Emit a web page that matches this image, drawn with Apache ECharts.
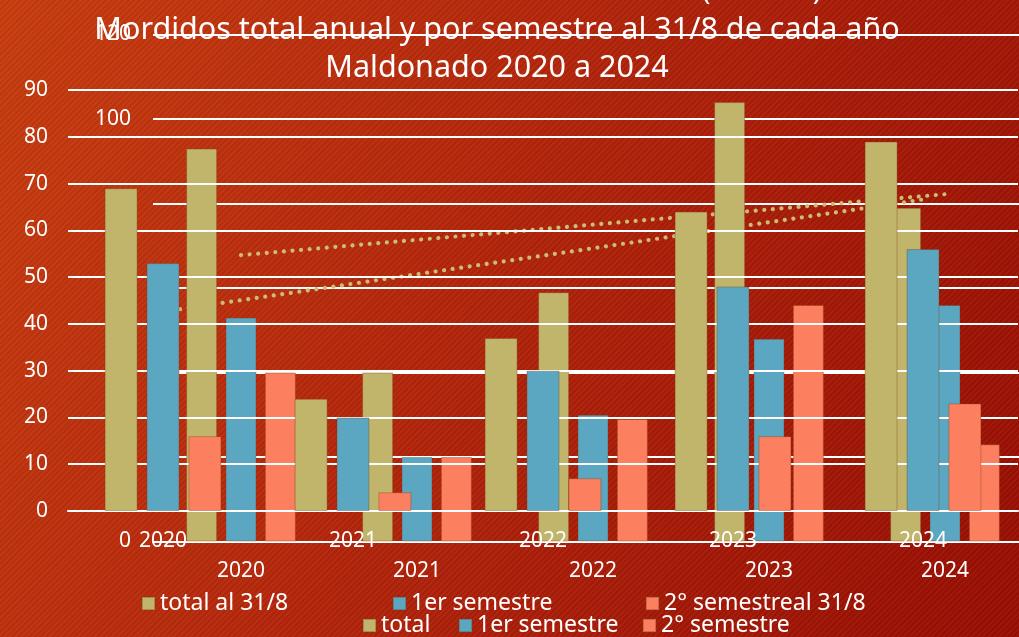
<!DOCTYPE html>
<html>
<head>
<meta charset="utf-8">
<script src="https://cdn.jsdelivr.net/npm/echarts@6/dist/echarts.min.js"></script>
<style>
  html, body { margin: 0; padding: 0; }
  body {
    width: 1019px; height: 637px; overflow: hidden;
    background:
      repeating-linear-gradient(135deg, rgba(255,255,255,0.035) 0 2px, rgba(0,0,0,0.035) 2px 4px),
      linear-gradient(115deg, #c73c0e 0%, #b2240a 45%, #970d02 100%);
  }
  /* un poco mas ancho que la ventana: el grafico de fondo sigue a la derecha */
  #chart { width: 1040px; height: 637px; }
</style>
</head>
<body>
<div id="chart"></div>
<script>
// categorias
const years = ['2020', '2021', '2022', '2023', '2024']

// grafico delantero: al 31/8
const totalAl318 = [69, 24, 37, 64, 79]
const sem1Al318 = [53, 20, 30, 48, 56]
const sem2Al318 = [16, 4, 7, 16, 23]

// grafico de fondo: total anual
const totalAnual = [93, 40, 59, 104, 79]
const sem1Anual = [53, 20, 30, 48, 56]
const sem2Anual = [40, 20, 29, 56, 23]

const TAN = '#c1b56b'
const BLUE = '#5ba6c1'
const SALMON = '#fc7f60'
const FONT = 'Noto Sans'

// linea de tendencia lineal (minimos cuadrados)
const trend = (vals) => {
  const n = vals.length
  const mx = (n - 1) / 2
  const my = vals.reduce((a, b) => a + b, 0) / n
  let num = 0, den = 0
  vals.forEach((v, i) => { num += (i - mx) * (v - my); den += (i - mx) * (i - mx) })
  const k = num / den
  return vals.map((v, i) => +(my + k * (i - mx)).toFixed(2))
}

const chart = echarts.init(document.getElementById('chart'))

const axisText = { color: '#fff', fontSize: 21, fontFamily: FONT }
const gridLine = { lineStyle: { color: '#fff', width: 2 } }

const bar = (name, data, color, idx, z, w) => ({
  name,
  type: 'bar',
  data,
  xAxisIndex: idx,
  yAxisIndex: idx,
  barWidth: w,
  barGap: '27%',
  z,
  itemStyle: { color, borderColor: 'rgba(120,60,20,0.35)', borderWidth: 1 }
})

const dots = (data, idx) => ({
  type: 'line',
  data,
  xAxisIndex: idx,
  yAxisIndex: idx,
  symbol: 'none',
  silent: true,
  z: 1,
  lineStyle: { color: '#cabe74', width: 4.2, type: [0.01, 8.6], cap: 'round' }
})

// una leyenda por item, para ubicar cada una como en la imagen
const legendItem = (name, left, top) => ({
  data: [name],
  left, top,
  padding: 0,
  itemWidth: 13, itemHeight: 13, itemGap: 0,
  icon: 'rect',
  textStyle: { color: '#fff', fontSize: 23, fontFamily: FONT }
})

const option = {
  animation: false,
  textStyle: { fontFamily: FONT },
  title: {
    text: 'Mordidos total anual y por semestre al 31/8 de cada año\nMaldonado 2020 a 2024',
    left: 492,
    top: 6,
    textAlign: 'center',
    textStyle: { color: '#fff', fontSize: 30.5, fontWeight: 'normal', lineHeight: 38, fontFamily: FONT }
  },
  graphic: [{
    type: 'text', left: 702, top: -22, z: 10,
    style: { text: '(  anual  )', fill: '#fff', fontSize: 28, fontFamily: FONT }
  }],
  legend: [
    legendItem('total al 31/8', 141, 592),
    legendItem('1er semestre', 392, 592),
    legendItem('2° semestreal 31/8', 645, 592),
    legendItem('total', 362, 614),
    legendItem('1er semestre', 458, 614),
    legendItem('2° semestre', 642, 614)
  ],
  grid: [
    { left: 68, top: 90, width: 950, height: 421 },
    { left: 153, top: 34.5, width: 880, height: 507 }
  ],
  xAxis: [
    {
      type: 'category', data: years, gridIndex: 0, z: 3,
      axisLine: { lineStyle: { color: '#fff', width: 2 } },
      axisTick: { show: false },
      axisLabel: { ...axisText, margin: 20 }
    },
    {
      type: 'category', data: years, gridIndex: 1, z: 0,
      axisLine: { lineStyle: { color: '#fff', width: 2 } },
      axisTick: { show: false },
      axisLabel: { ...axisText, margin: 19 }
    }
  ],
  yAxis: [
    {
      type: 'value', gridIndex: 0, min: 0, max: 90, interval: 10, z: 3,
      axisLine: { show: false }, axisTick: { show: false },
      axisLabel: { ...axisText, margin: 20 },
      splitLine: gridLine
    },
    {
      type: 'value', gridIndex: 1, min: 0, max: 120, interval: 20, z: 0,
      axisLine: { show: false }, axisTick: { show: false },
      axisLabel: { ...axisText, margin: 22 },
      splitLine: gridLine
    }
  ],
  series: [
    // fondo
    bar('total', totalAnual, TAN, 1, 2, 31),
    bar('1er semestre', sem1Anual, BLUE, 1, 2, 31),
    bar('2° semestre', sem2Anual, SALMON, 1, 2, 31),
    dots(trend(totalAnual), 1),
    // delante
    bar('total al 31/8', totalAl318, TAN, 0, 4, 33),
    bar('1er semestre', sem1Al318, BLUE, 0, 4, 33),
    bar('2° semestreal 31/8', sem2Al318, SALMON, 0, 4, 33),
    dots(trend(totalAl318), 0)
  ]
}

chart.setOption(option)
</script>
</body>
</html>
